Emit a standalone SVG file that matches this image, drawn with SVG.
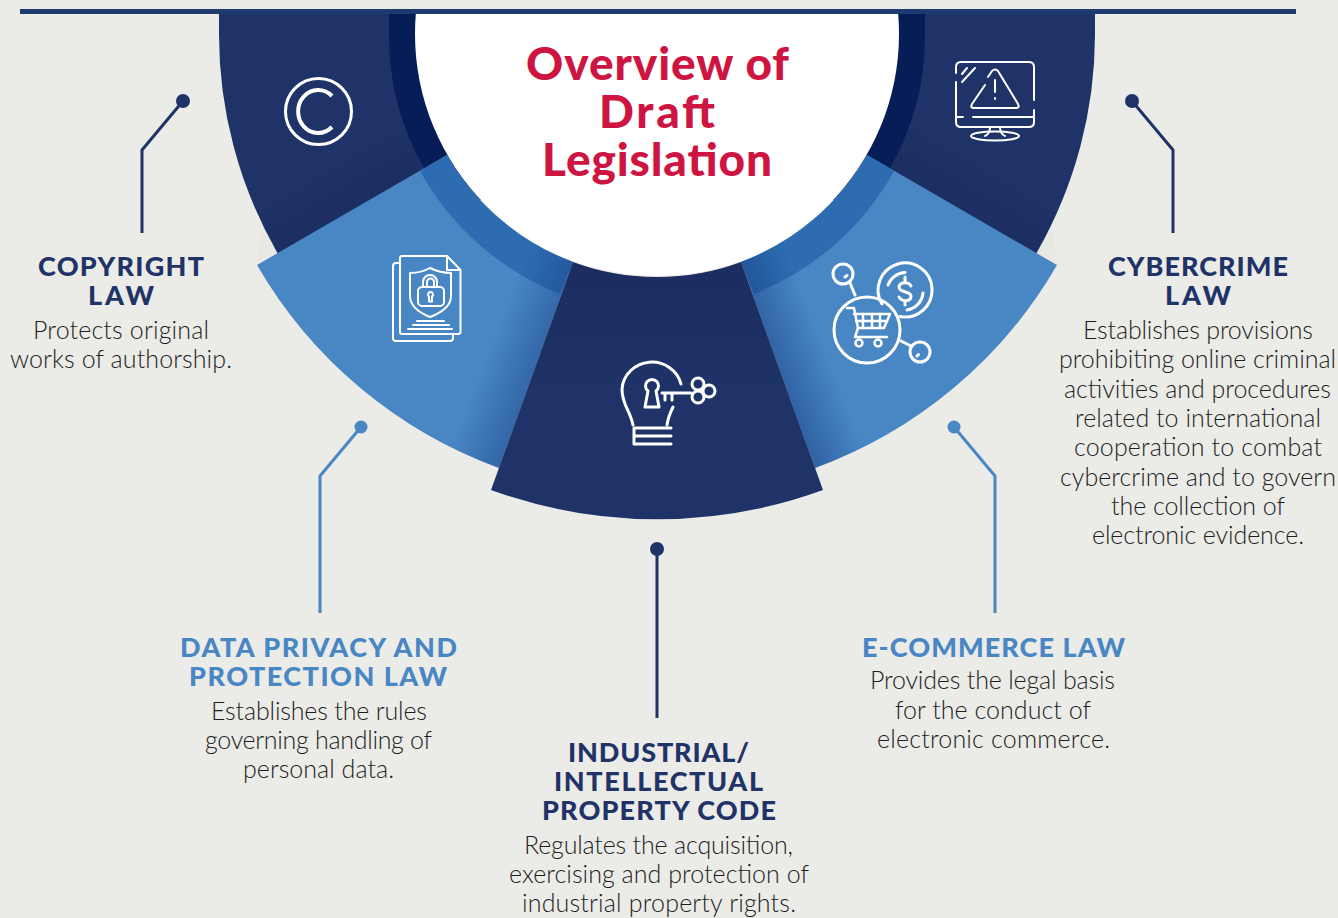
<svg xmlns="http://www.w3.org/2000/svg" width="1338" height="918" viewBox="0 0 1338 918">
<style>
.t{font-family:"Lato","Liberation Sans",sans-serif;font-weight:900;font-size:27px;text-anchor:middle;transform:translateY(.6px)}
.navy{fill:#1f3368}.sky{fill:#4886c4}
.b{font-family:"Lato","Liberation Sans",sans-serif;font-weight:300;font-size:25px;text-anchor:middle;fill:#1e1e1e;transform:translateY(-.6px)}
.h{font-family:"Lato","Liberation Sans",sans-serif;font-weight:900;font-size:46px;text-anchor:middle;fill:#ce1541}
.i{fill:none;stroke:#fff;stroke-width:2;stroke-linecap:round;stroke-linejoin:round}
.i3{stroke-width:3}
.c{fill:none;stroke-width:3;stroke-linejoin:round}
</style>
<defs>
<clipPath id="top"><rect x="0" y="14" width="1338" height="904"/></clipPath>
<linearGradient id="gl" gradientUnits="userSpaceOnUse" x1="536" y1="365" x2="490" y2="347"><stop offset="0" stop-color="#143a80" stop-opacity=".4"/><stop offset="1" stop-color="#143a80" stop-opacity="0"/></linearGradient>
<linearGradient id="gr" gradientUnits="userSpaceOnUse" x1="778" y1="365" x2="824" y2="347"><stop offset="0" stop-color="#143a80" stop-opacity=".45"/><stop offset="1" stop-color="#143a80" stop-opacity="0"/></linearGradient>
<linearGradient id="sl" gradientUnits="userSpaceOnUse" x1="360" y1="205" x2="335" y2="162"><stop offset="0" stop-color="#101c4a" stop-opacity=".22"/><stop offset="1" stop-color="#101c4a" stop-opacity="0"/></linearGradient>
<linearGradient id="sr" gradientUnits="userSpaceOnUse" x1="954" y1="205" x2="979" y2="162"><stop offset="0" stop-color="#101c4a" stop-opacity=".22"/><stop offset="1" stop-color="#101c4a" stop-opacity="0"/></linearGradient>
<linearGradient id="mid" x1="0" y1="0" x2="0" y2="1"><stop offset="0" stop-color="#1b2c60"/><stop offset=".5" stop-color="#1f3368"/></linearGradient>
</defs>
<rect width="1338" height="918" fill="#ebebe7"/>
<g id="wheel" clip-path="url(#top)">
<path d="M262 232L257 262L282 250Z" fill="#e7e7e4"/>
<path d="M1052 232L1057 262L1032 250Z" fill="#e7e7e4"/>
<path d="M219 0H1095V34A438 438 0 0 1 1037 252L1030 265L900 200H414L284 265L277 252A438 438 0 0 1 219 34Z" fill="#1f3368"/>
<path d="M447 155L277 253A438 438 0 0 1 219 34V0H389V120Z" fill="url(#sl)"/>
<path d="M867 155L1037 253A438 438 0 0 0 1095 34V0H925V120Z" fill="url(#sr)"/>
<path d="M389 0H925V34A268 268 0 0 1 890 168L885 185H429L424 168A268 268 0 0 1 389 34Z" fill="#071d58"/>
<path d="M447 155L257 265A462 462 0 0 0 499 468L573 262A242 242 0 0 1 447 155Z" fill="#4886c4"/>
<path d="M867 155L1057 265A462 462 0 0 1 815 468L741 262A242 242 0 0 0 867 155Z" fill="#4886c4"/>
<path d="M447 155L420 171A276 276 0 0 0 560 294L573 262A242 242 0 0 1 447 155Z" fill="#2d6cb0"/>
<path d="M867 155L894 171A276 276 0 0 1 754 294L741 262A242 242 0 0 0 867 155Z" fill="#2d6cb0"/>
<path d="M447 155L257 265A462 462 0 0 0 499 468L573 262A242 242 0 0 1 447 155Z" fill="url(#gl)"/>
<path d="M867 155L1057 265A462 462 0 0 1 815 468L741 262A242 242 0 0 0 867 155Z" fill="url(#gr)"/>
<path d="M573 262L491 490A485 485 0 0 0 823 490L741 262A242 242 0 0 1 573 262Z" fill="url(#mid)"/>
<circle cx="657" cy="34" r="242" fill="#fff"/>
</g>
<rect id="topbar" x="20" y="9" width="1276" height="5" fill="#1f3a6e"/>
<g id="title"><text class="h" x="657.500" y="80" textLength="263">Overview of</text><text class="h" x="657" y="128" textLength="116">Draft</text><text class="h" x="657" y="176" textLength="230">Legislation</text></g>
<g id="connectors">
<g stroke="#1f3368"><path class="c" d="M183 101L142 150V233"/><path class="c" d="M1132 101L1173 150V233"/><path class="c" d="M657 549V718"/></g>
<g stroke="#4886c4"><path class="c" d="M361 427L320 476V613"/><path class="c" d="M954 427L995 476V613"/></g>
<circle cx="183" cy="101" r="7" fill="#1f3368"/><circle cx="1132" cy="101" r="7" fill="#1f3368"/><circle cx="657" cy="549" r="7" fill="#1f3368"/><circle cx="361" cy="427" r="6.500" fill="#4886c4"/><circle cx="954" cy="427" r="6.500" fill="#4886c4"/>
</g>
<g id="copyright"><g class="i"><circle class="i3" cx="318.500" cy="111.500" r="33"/><path d="M332 96A20 21.500 0 1 0 332 127" stroke-width="4" stroke-linecap="butt"/></g>
<text class="t navy" x="121" y="275" textLength="166">COPYRIGHT</text><text class="t navy" x="121" y="304" textLength="66">LAW</text>
<text class="b" x="121" y="340" textLength="176">Protects original</text><text class="b" x="121" y="369" textLength="222">works of authorship.</text></g>
<g id="privacy"><g class="i"><path d="M402 256H447L460.500 270V332Q460.500 334 458 334H402Q400 334 400 332V258Q400 256 402 256ZM447 256V270H460.500"/><path d="M400 263H396Q393 263 393 266V338Q393 341 396 341H450Q453 341 453 338V334"/><path d="M430 268Q440 273 451 273V296Q451 309 430 317Q410 309 410 296V273Q421 273 430 268Z"/><rect x="418" y="287" width="26" height="19" rx="4"/><path d="M423 287V282A7 7 0 0 1 437 282V287M427 287V282A3.500 3.500 0 0 1 434 282V287"/><path d="M430.500 292a2.500 2.500 0 0 0-1.500 4.500v5h3v-5a2.500 2.500 0 0 0-1.500-4.500Z"/><path d="M417 321H444M413 325H449M408 329H452"/></g>
<text class="t sky" x="318.500" y="656" textLength="277">DATA PRIVACY AND</text><text class="t sky" x="318" y="685" textLength="258">PROTECTION LAW</text>
<text class="b" x="319" y="721" textLength="216">Establishes the rules</text><text class="b" x="318.500" y="750" textLength="227">governing handling of</text><text class="b" x="318.500" y="779" textLength="151">personal data.</text></g>
<g id="industrial"><g class="i"><g class="i3"><path d="M633 425C630 410 622 405 622 389A30 29 0 0 1 681 384M673 407C670 413 668 418 667 425"/><path d="M634 428H671M634 436H671M634 444H671M634 428V444"/><path d="M645 407L648 391A6.500 6.500 0 1 1 656 391L659 407Z"/><path d="M662 393H691M665 393V400M672 393V400"/><circle cx="698" cy="384" r="6"/><circle cx="698" cy="397" r="6"/><circle cx="709" cy="391" r="6"/></g></g>
<text class="t navy" x="658.500" y="761" textLength="181">INDUSTRIAL/</text><text class="t navy" x="658.500" y="790" textLength="209">INTELLECTUAL</text><text class="t navy" x="659" y="819" textLength="234">PROPERTY CODE</text>
<text class="b" x="658.500" y="855" textLength="269">Regulates the acquisition,</text><text class="b" x="659" y="884" textLength="300">exercising and protection of</text><text class="b" x="659" y="913" textLength="274">industrial property rights.</text></g>
<g id="ecommerce"><g class="i i3"><circle cx="867" cy="330" r="33"/><circle cx="843" cy="274" r="10"/><path d="M850 283L855 295M901 341L911 346M845 277L847 275.500"/><circle cx="920" cy="352" r="10"/><path d="M917 356L918.500 354.500"/><path d="M882 304A27 27 0 1 1 900 316.500M888 285A19 19 0 0 1 905 272.500M923 293A19 19 0 0 1 907 310"/><path d="M911 286C909 282 900 281 899 287C899 293 911 291 911 296C911 302 902 302 899 297M905 277V282M905 301V305"/><path d="M847 308H854L858 328H884L890 314H854" stroke-width="2.500"/><path d="M863 314V328M872 314V328M880 314V328M856 321H887M858 328L855 337H887" stroke-width="2.500"/><circle cx="859" cy="343" r="3.500" stroke-width="2.500"/><circle cx="878" cy="343" r="3.500" stroke-width="2.500"/></g>
<text class="t sky" x="993.500" y="656" textLength="263">E-COMMERCE LAW</text>
<text class="b" x="992.500" y="690" textLength="245">Provides the legal basis</text><text class="b" x="993" y="720" textLength="196">for the conduct of</text><text class="b" x="993.500" y="749" textLength="233">electronic commerce.</text></g>
<g id="cybercrime"><g class="i" stroke-width="2.300"><path d="M956 73V67Q956 62 961 62H1029Q1034 62 1034 67V100M956 82V122Q956 127 961 127H1029Q1034 127 1034 122V110M956 117H963M973 117H1033"/><path d="M962 74L967 68M962 82L975 68"/><path d="M988 77L992 71Q995 68 998 71L1018 104Q1020 108 1016 108H974Q970 108 972 104L985 85"/><path d="M995 80V92M995 98V99"/><path d="M990 127Q990 134 985 136M1000 127Q1000 134 1005 136"/><ellipse cx="995" cy="136" rx="24" ry="4.500"/></g>
<text class="t navy" x="1198" y="275" textLength="180">CYBERCRIME</text><text class="t navy" x="1198" y="304" textLength="66">LAW</text>
<text class="b" x="1198" y="340" textLength="230">Establishes provisions</text><text class="b" x="1197.500" y="369" textLength="277">prohibiting online criminal</text><text class="b" x="1197.500" y="399" textLength="267">activities and procedures</text><text class="b" x="1198" y="428" textLength="246">related to international</text><text class="b" x="1198" y="457" textLength="248">cooperation to combat</text><text class="b" x="1198" y="487" textLength="276">cybercrime and to govern</text><text class="b" x="1198" y="516" textLength="174">the collection of</text><text class="b" x="1198" y="545" textLength="212">electronic evidence.</text></g>
</svg>
